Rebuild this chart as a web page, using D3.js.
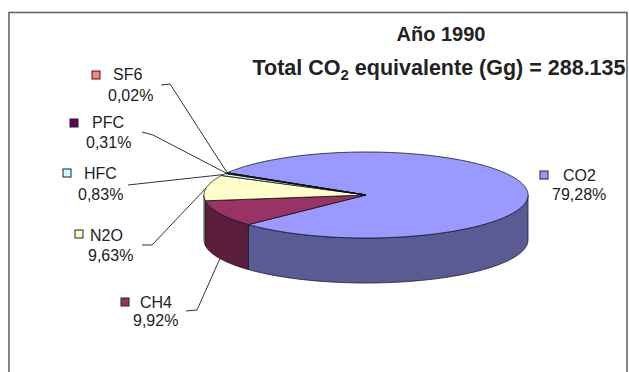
<!DOCTYPE html>
<html>
<head>
<meta charset="utf-8">
<script src="https://cdn.jsdelivr.net/npm/d3@7"></script>
<style>
  html, body { margin: 0; padding: 0; background: #fff; }
  svg { display: block; }
  text { font-family: "Liberation Sans", Arial, sans-serif; fill: #222; }
</style>
</head>
<body>
<svg id="chart" width="629" height="372"></svg>
<script>
// Emission shares by gas, year 1990
const categories = ["CO2", "CH4", "N2O", "HFC", "PFC", "SF6"];
const shares     = [79.28, 9.92, 9.63, 0.83, 0.31, 0.02];
const topColors  = ["#9999FF", "#993366", "#FFFFCC", "#CCFFFF", "#660066", "#FF8080"];
const titleYear  = "Año 1990";
const totalValue = "288.135";

// Label placement: legend key box, name, value text and leader elbow
const labelLayout = [
  { key: [540, 171], name: [563, 181], value: [552, 200], leader: null },
  { key: [121, 298], name: [140, 308], value: [133, 326], leader: [[186, 311], [197, 310]], edge: "bottom" },
  { key: [75, 230],  name: [90, 241],  value: [88, 261],  leader: [[142, 245], [152, 245]], edge: "top" },
  { key: [63, 169],  name: [84, 179],  value: [78, 200],  leader: [[128, 185]], edge: "top" },
  { key: [70, 119],  name: [92, 128],  value: [86, 148],  leader: [[142, 132], [153, 135]], edge: "top" },
  { key: [92, 71],   name: [113, 80],  value: [108, 101], leader: [[161, 85], [170, 84]], edge: "top" }
];

const svg = d3.select("#chart");

// Chart frame
svg.append("rect")
  .attr("x", 9).attr("y", 12.5)
  .attr("width", 618).attr("height", 380)
  .attr("fill", "#fff")
  .attr("stroke", "#666").attr("stroke-width", 1.6);

// Title
const title = svg.append("text")
  .attr("text-anchor", "middle")
  .style("font-weight", "bold");
title.append("tspan").attr("x", 441).attr("y", 41).style("font-size", "20px").text(titleYear);
const l2 = title.append("tspan").attr("x", 439).attr("y", 75).style("font-size", "21.5px");
l2.append("tspan").text("Total CO");
l2.append("tspan").attr("dy", 5).style("font-size", "15px").text("2");
l2.append("tspan").attr("dy", -5).text(" equivalente (Gg) = " + totalValue);

// 3D pie geometry
const cx = 366, cy = 195, rx = 162, ry = 43, depth = 45;
const startDeg = 211.1 + 90; // first slice edge, measured from 12 o'clock
const pie = d3.pie().sort(null).value(d => d)
  .startAngle(startDeg * Math.PI / 180)
  .endAngle(startDeg * Math.PI / 180 + 2 * Math.PI);
const arcs = pie(shares);

// screen angle: clockwise from +x with y pointing down
const toScreen = a => a - Math.PI / 2;
const pt = (t, dy = 0) => [cx + rx * Math.cos(t), cy + ry * Math.sin(t) + dy];

const line = d3.line();
function arcPoints(t0, t1, dy) {
  const n = Math.max(2, Math.ceil(Math.abs(t1 - t0) / 0.01));
  return d3.range(n + 1).map(i => pt(t0 + (t1 - t0) * i / n, dy));
}

const darken = c => d3.rgb(c).darker(1.5).formatHex();

// Front walls: visible for screen angles in [0, PI] (mod 2PI)
const sideG = svg.append("g");
arcs.forEach((a, i) => {
  let t0 = toScreen(a.startAngle), t1 = toScreen(a.endAngle);
  [0, 2 * Math.PI, 4 * Math.PI].forEach(off => {
    const s = Math.max(t0, off), e = Math.min(t1, off + Math.PI);
    if (e > s) {
      const pts = arcPoints(s, e, 0).concat(arcPoints(e, s, depth));
      sideG.append("path")
        .attr("d", line(pts) + "Z")
        .attr("fill", darken(topColors[i]))
        .attr("stroke", "#1a1a2a").attr("stroke-width", 0.8)
        .attr("stroke-linejoin", "round");
    }
  });
});

// Top faces
const topG = svg.append("g");
arcs.forEach((a, i) => {
  const t0 = toScreen(a.startAngle), t1 = toScreen(a.endAngle);
  const pts = [[cx, cy]].concat(arcPoints(t0, t1, 0));
  topG.append("path")
    .attr("d", line(pts) + "Z")
    .attr("fill", topColors[i])
    .attr("stroke", "#111").attr("stroke-width", 0.8)
    .attr("stroke-linejoin", "round");
});

// Data labels
const fmt = d3.formatLocale({ decimal: ",", thousands: ".", grouping: [3], currency: ["", ""] }).format(".2f");
const labG = svg.append("g").style("font-size", "16px");
arcs.forEach((a, i) => {
  const L = labelLayout[i];
  if (L.leader) {
    const mid = toScreen((a.startAngle + a.endAngle) / 2);
    const end = pt(mid, L.edge === "bottom" ? depth : 0);
    labG.append("path")
      .attr("d", line(L.leader.concat([end])))
      .attr("fill", "none").attr("stroke", "#333").attr("stroke-width", 1);
  }
  labG.append("rect")
    .attr("x", L.key[0]).attr("y", L.key[1])
    .attr("width", 8).attr("height", 8)
    .attr("fill", topColors[i]).attr("stroke", "#222").attr("stroke-width", 1);
  labG.append("text").attr("x", L.name[0]).attr("y", L.name[1]).text(categories[i]);
  labG.append("text").attr("x", L.value[0]).attr("y", L.value[1]).text(fmt(shares[i]) + "%");
});
</script>
</body>
</html>
